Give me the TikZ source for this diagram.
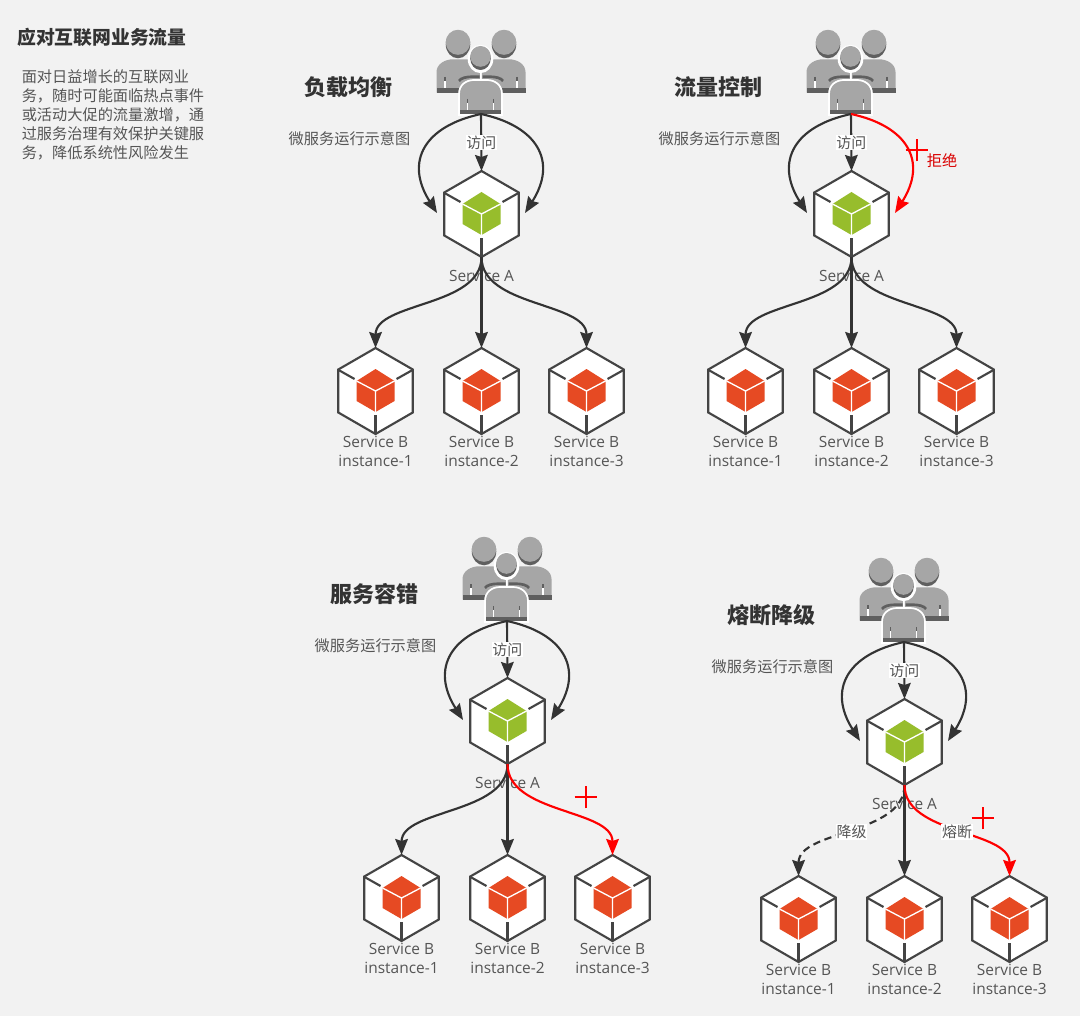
\documentclass[tikz,border=0pt]{standalone}
\usepackage{fontspec}
\setmainfont{Open Sans}
\newfontfamily\cjk{Noto Sans CJK SC}
\usetikzlibrary{positioning,arrows.meta,shapes.geometric,shapes.misc}
\definecolor{pagebg}{HTML}{F2F2F2}
\definecolor{inkdark}{HTML}{333333}
\definecolor{inkhex}{HTML}{444444}
\definecolor{inktext}{HTML}{555555}
\definecolor{cubegreen}{HTML}{97BD2C}
\definecolor{cubered}{HTML}{E64A23}
\definecolor{usergray}{HTML}{A6A6A6}
\definecolor{userdark}{HTML}{5F5F5F}
\tikzset{
  pics/hexcube/.style={code={
    \draw[inkhex, line width=1.6pt] (-37,-21) -- (-21,-12);
    \draw[inkhex, line width=1.6pt] (37,-21) -- (21,-12);
    \draw[inkhex, line width=1.6pt] (0,24) -- (0,42);
    \fill[#1] (0,-22) -- (19,-10) -- (19,10) -- (0,21) -- (-19,10) -- (-19,-10) -- cycle;
    \draw[white, line width=1pt] (-19,-10) -- (0,0) -- (19,-10) (0,0) -- (0,21);
  }},
  pics/usergroup/.style={code={
    \foreach \sgn in {-1,1} {
      \fill[userdark] (\sgn*23,-27.7) ellipse [x radius=9.2pt, y radius=10.5pt];
      \fill[usergray] (\sgn*23,-29.7) ellipse [x radius=9.2pt, y radius=9.4pt];
      \fill[usergray] (\sgn*44.5,20.7) -- (\sgn*44.5,0) .. controls (\sgn*44.5,-8) and (\sgn*36,-12.7) .. (\sgn*28,-12.7)
        -- (\sgn*1,-12.7) -- (\sgn*1,20.7) -- cycle;
      \fill[userdark] (\sgn*44.5,16.3) rectangle (\sgn*15,20.7);
      \draw[userdark, line width=.8pt] (\sgn*36,5) -- (\sgn*36,9);
      \draw[white, line width=.8pt] (\sgn*36,9) -- (\sgn*36,16.3);
      \draw[userdark, line width=2pt] (\sgn*1.5,4.7) -- (\sgn*8,4.7) .. controls (\sgn*15,4.7) and (\sgn*20,6) .. (\sgn*22,9);
    }
    \fill[white] (-.5,-13) ellipse [x radius=9.6pt, y radius=10.6pt];
    \fill[userdark] (-.5,-13.7) ellipse [x radius=7.7pt, y radius=8.8pt];
    \fill[usergray] (-.5,-15.6) ellipse [x radius=7.7pt, y radius=7.8pt];
    \draw[white, line width=1.1pt] (-.5,-2) -- (-.5,8);
    \fill[usergray, draw=white, line width=1.3pt] (-22,43) -- (-22,22) .. controls (-22,13) and (-15,8) .. (-7,8)
      -- (6,8) .. controls (14,8) and (21,13) .. (21,22) -- (21,43) -- cycle;
    \fill[userdark] (-21,38) rectangle (20,42);
    \draw[userdark, line width=.8pt] (-13.3,27) -- (-13.3,31) (12.3,27) -- (12.3,31);
    \draw[white, line width=.8pt] (-13.3,31) -- (-13.3,38) (12.3,31) -- (12.3,38);
  }},
  hexnode/.style={regular polygon, regular polygon sides=6, shape border rotate=30, draw=inkhex,
    fill=white, line width=1.6pt, minimum size=64.5pt, inner sep=0pt, outer sep=0pt},
  usernode/.style={minimum width=66pt, minimum height=63pt, inner sep=0pt, outer sep=0pt},
  titlenode/.style={font=\cjk\bfseries\fontsize{16.5}{20}\selectfont, text=inkdark},
  headnode/.style={font=\cjk\bfseries\fontsize{14.1}{18}\selectfont, text=inkdark, anchor=west, inner sep=0pt},
  cntext/.style={font=\cjk\fontsize{11.4}{14.25}\selectfont, text=inktext, inner sep=0pt},
  svctext/.style={font=\fontsize{11.6}{14.25}\selectfont, text=inktext, align=center, inner sep=0pt},
  tagnode/.style={font=\cjk\fontsize{11.2}{14}\selectfont, text=inktext, fill=white, inner sep=.6pt},
  crossnode/.style={cross out, draw=red, rotate=45, line width=1.7pt, minimum size=12pt, inner sep=0pt, outer sep=0pt},
  flow/.style={-{Stealth[length=12pt,width=9.5pt,inset=1.5pt]}, line width=1.6pt, inkdark},
  flowred/.style={flow, red},
  flowdash/.style={flow, dash pattern=on 5.5pt off 3.5pt}
}
\begin{document}
\begin{tikzpicture}[x=.75pt, y=-.75pt]
\fill[pagebg] (0,0) rectangle (1080,1016);
\useasboundingbox (0,0) rectangle (1080,1016);
\node[headnode] (head) at (17,37) {应对互联网业务流量};
\node[cntext, align=left, anchor=north west] (intro) at (21.5,69) {面对日益增长的互联网业\\务，随时可能面临热点事件\\或活动大促的流量激增，通\\过服务治理有效保护关键服\\务，降低系统性风险发生};
\foreach \pnl/\dx/\dy/\ttl in {lb/0/0/负载均衡, fc/370/0/流量控制, ft/26/507/服务容错, cb/423/528/熔断降级} {
  \begin{scope}[shift={(\dx,\dy)}]
    \node[titlenode] (\pnl-t) at (348.5,87) {\ttl};
    \node[cntext] (\pnl-s) at (349.5,139) {微服务运行示意图};
    \node[usernode] (\pnl-u) at (481,72) {};
    \pic at (\pnl-u) {usergroup};
    \node[hexnode] (\pnl-a) at (481.5,214) {};
    \pic at (\pnl-a) {hexcube=cubegreen};
    \node[svctext, below=9.6pt of \pnl-a] (\pnl-al) {Service A};
    \node[hexnode] (\pnl-b2) at (481.5,391) {};
    \node[hexnode, left=23.6pt of \pnl-b2] (\pnl-b1) {};
    \node[hexnode, right=22.9pt of \pnl-b2] (\pnl-b3) {};
    \foreach \inst in {1,2,3} {
      \pic at (\pnl-b\inst) {hexcube=cubered};
      \node[svctext, below=1.6pt of \pnl-b\inst] (\pnl-l\inst) {Service B\\instance-\inst};
    }
    \coordinate (\pnl-il) at (437,213);
    \coordinate (\pnl-ir) at (525,213);
    \draw[flow] (\pnl-u.south) -- (\pnl-a.north) node[tagnode, pos=.5] (\pnl-v) {访问};
    \draw[flow] (\pnl-u.south) .. controls +(-56,12) and +(-33,-52) .. (\pnl-il);
    \draw[flow] (\pnl-a.south) -- (\pnl-b2.north);
  \end{scope}
}
\foreach \pnl/\sty in {lb/flow, fc/flowred, ft/flow, cb/flow} {
  \draw[\sty] (\pnl-u.south) .. controls +(56,12) and +(33,-52) .. (\pnl-ir);
}
\foreach \pnl/\sty in {lb/flow, fc/flow, ft/flow} {
  \draw[\sty] (\pnl-a.south) .. controls +(0,50) and +(0,-46) .. (\pnl-b1.north);
}
\foreach \pnl/\sty in {lb/flow, fc/flow, ft/flowred} {
  \draw[\sty] (\pnl-a.south) .. controls +(0,50) and +(0,-46) .. (\pnl-b3.north);
}
\draw[flowdash] (cb-a.south) .. controls +(0,50) and +(0,-46) .. (cb-b1.north)
  node[tagnode, pos=.5] (cb-deg) {降级};
\draw[flowred] (cb-a.south) .. controls +(0,50) and +(0,-46) .. (cb-b3.north)
  node[tagnode, pos=.5] (cb-brk) {熔断};
\node[crossnode] (fc-x) at (917,150) {};
\node[cntext, text=red!85!black] (fc-rej) at (942,161) {拒绝};
\node[crossnode] (ft-x) at (586,797) {};
\node[crossnode] (cb-x) at (983,818) {};
\end{tikzpicture}
\end{document}
